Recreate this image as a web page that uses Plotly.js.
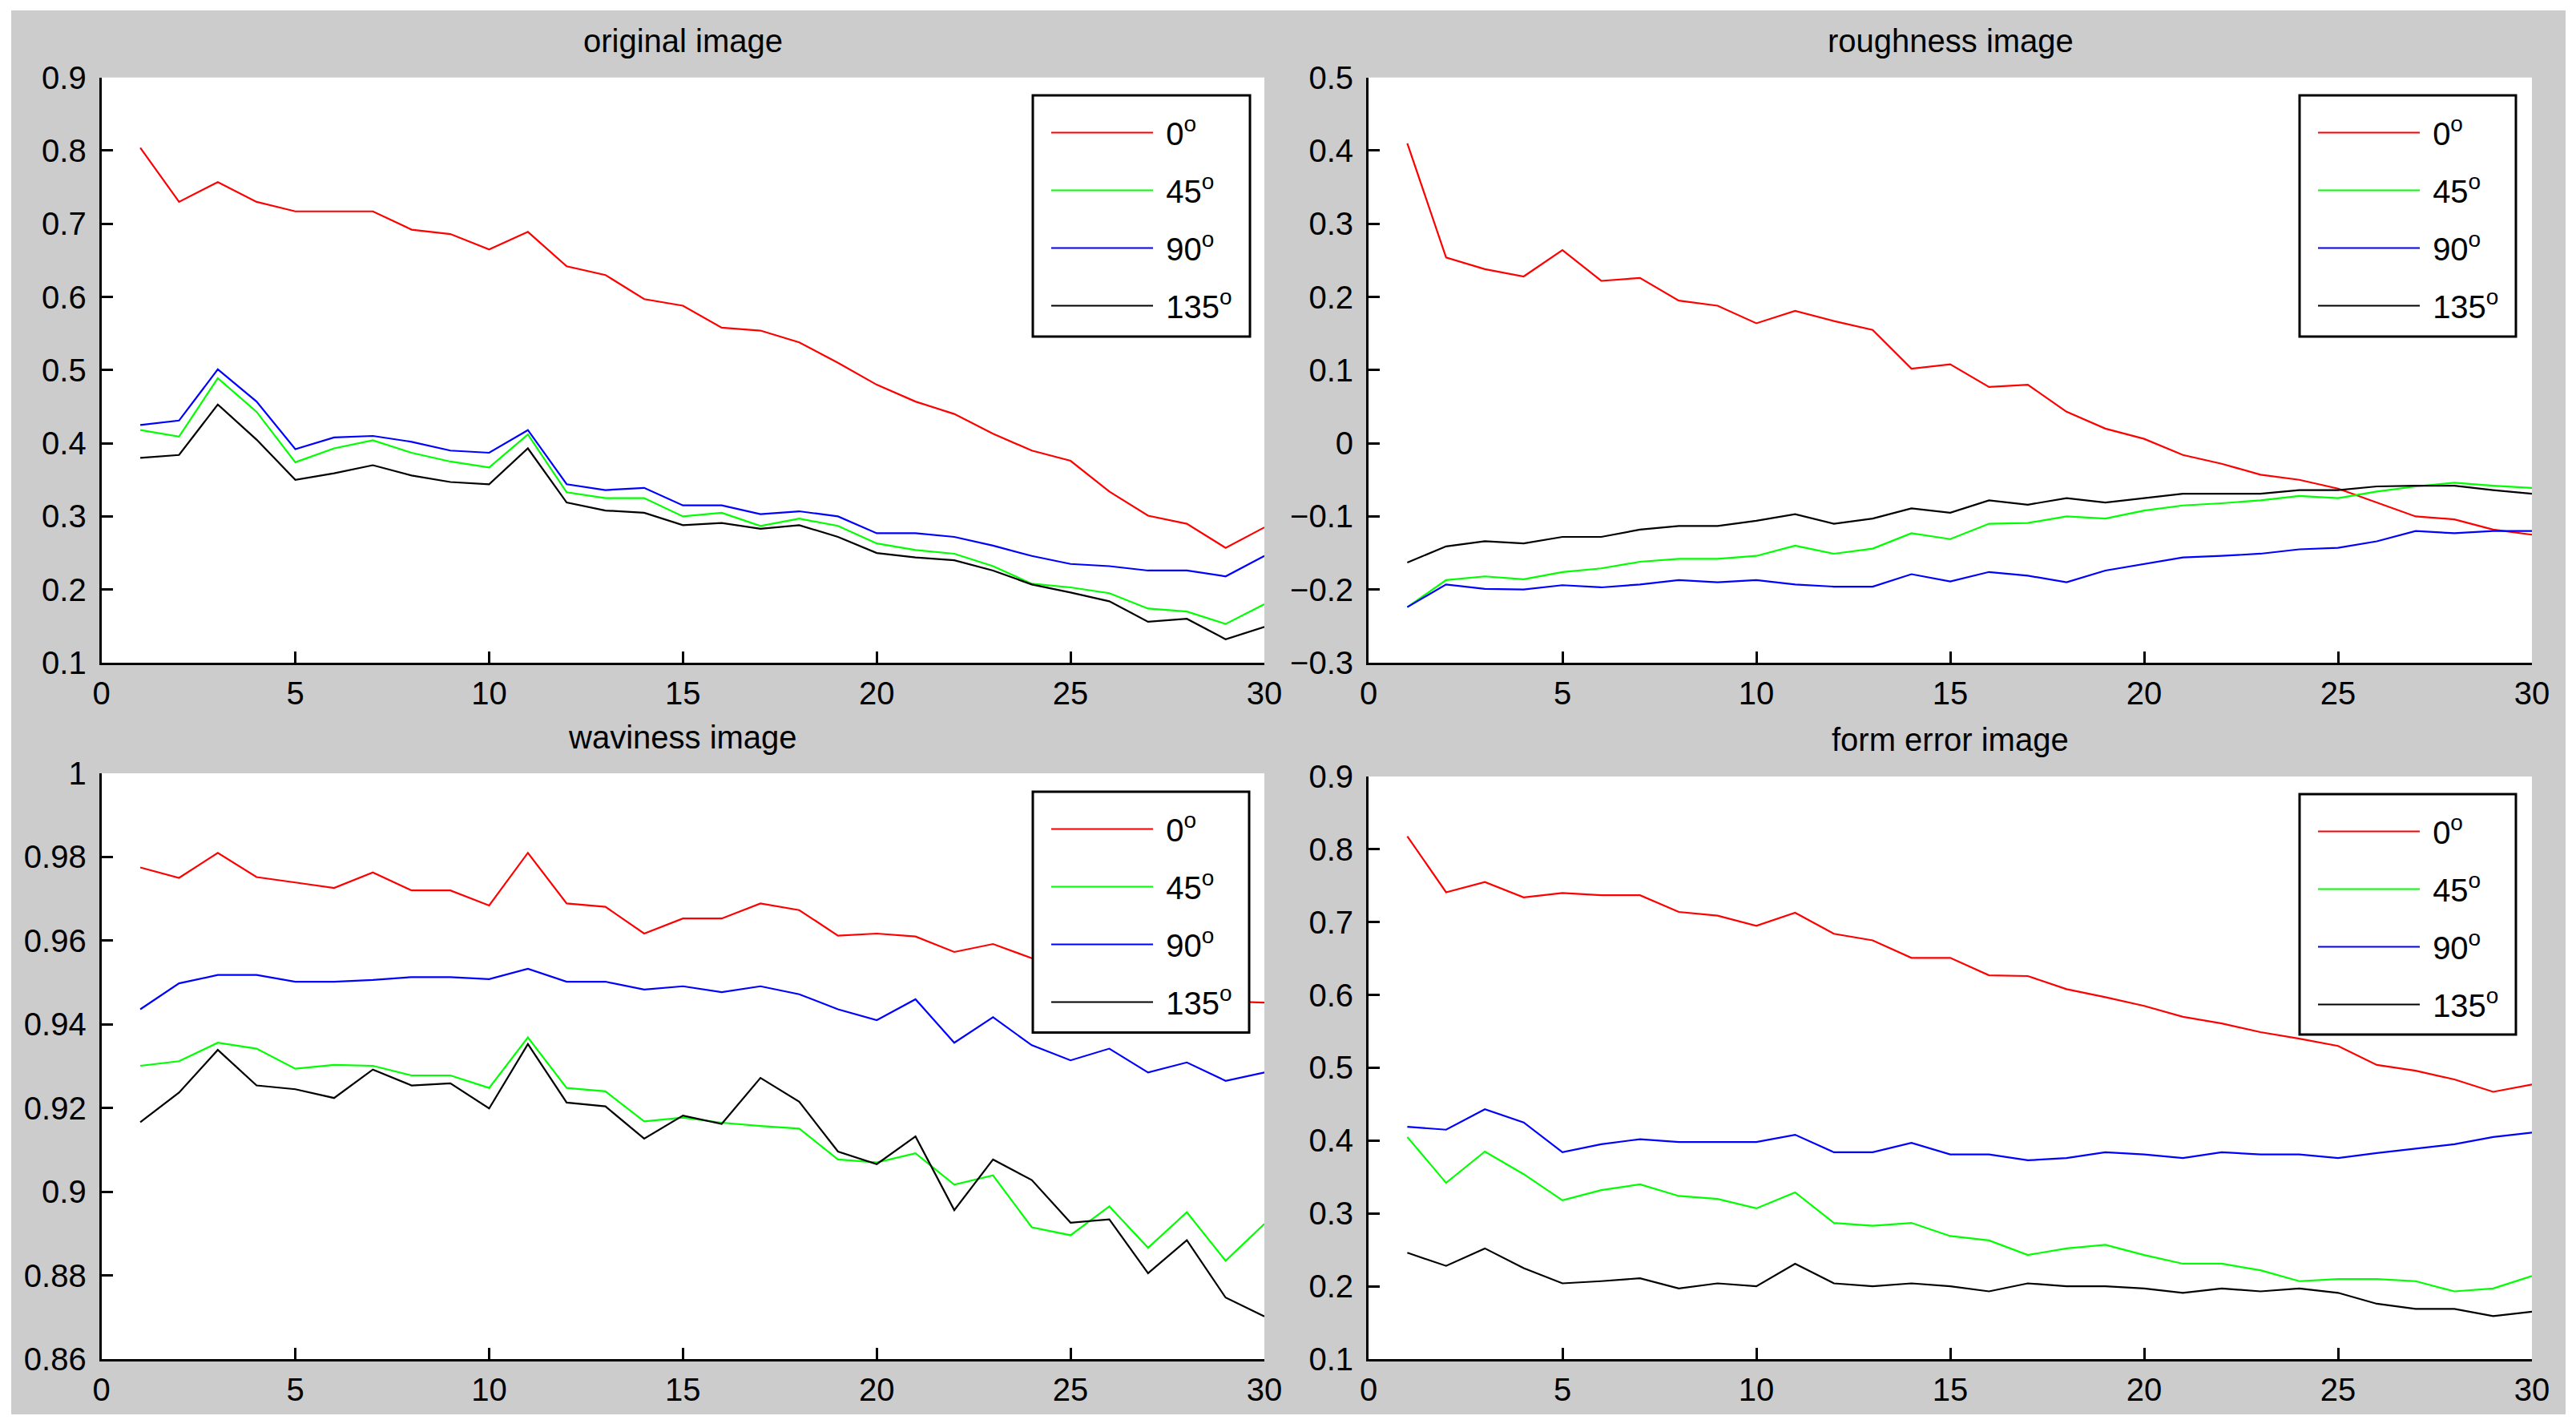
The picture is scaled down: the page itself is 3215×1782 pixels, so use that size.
<!DOCTYPE html>
<html>
<head>
<meta charset="utf-8">
<script src="https://cdn.plot.ly/plotly-3.0.1.min.js"></script>
<style>html,body{margin:0;padding:0;background:#fff;}#chart{width:3215px;height:1782px;}</style>
</head>
<body>
<div id="chart"></div>
<script>
// x positions (1..30)
const xs = [1,2,3,4,5,6,7,8,9,10,11,12,13,14,15,16,17,18,19,20,21,22,23,24,25,26,27,28,29,30];
const seriesNames = ['\u00A00<sup>o</sup>','\u00A045<sup>o</sup>','\u00A090<sup>o</sup>','\u00A0135<sup>o</sup>'];
const subplotTitles = ['original image','roughness image','waviness image','form error image'];

// original image
const orig0   = [0.804,0.730,0.757,0.730,0.717,0.717,0.717,0.692,0.686,0.665,0.689,0.642,0.630,0.597,0.588,0.558,0.554,0.538,0.510,0.480,0.457,0.440,0.413,0.390,0.376,0.334,0.301,0.290,0.257,0.285];
const orig45  = [0.418,0.409,0.489,0.443,0.374,0.393,0.404,0.387,0.375,0.367,0.412,0.333,0.325,0.325,0.300,0.305,0.287,0.297,0.287,0.263,0.254,0.249,0.232,0.208,0.203,0.195,0.174,0.170,0.153,0.180];
const orig90  = [0.425,0.431,0.501,0.457,0.392,0.408,0.410,0.402,0.390,0.387,0.418,0.344,0.336,0.339,0.315,0.315,0.303,0.307,0.300,0.277,0.277,0.272,0.260,0.246,0.235,0.232,0.226,0.226,0.218,0.246];
const orig135 = [0.380,0.384,0.453,0.405,0.350,0.359,0.370,0.356,0.347,0.344,0.393,0.319,0.308,0.305,0.288,0.291,0.283,0.288,0.272,0.250,0.244,0.240,0.226,0.207,0.196,0.184,0.156,0.160,0.132,0.149];

// roughness image
const rough0   = [0.410,0.254,0.238,0.228,0.264,0.222,0.226,0.195,0.188,0.164,0.181,0.167,0.155,0.102,0.108,0.077,0.080,0.043,0.020,0.006,-0.016,-0.028,-0.043,-0.050,-0.062,-0.081,-0.100,-0.104,-0.118,-0.125];
const rough45  = [-0.224,-0.187,-0.182,-0.186,-0.176,-0.171,-0.162,-0.158,-0.158,-0.154,-0.140,-0.151,-0.144,-0.123,-0.131,-0.110,-0.109,-0.100,-0.103,-0.092,-0.085,-0.082,-0.078,-0.072,-0.075,-0.066,-0.059,-0.054,-0.058,-0.061];
const rough90  = [-0.224,-0.193,-0.199,-0.200,-0.194,-0.197,-0.193,-0.187,-0.190,-0.187,-0.193,-0.196,-0.196,-0.179,-0.189,-0.176,-0.181,-0.190,-0.174,-0.165,-0.156,-0.154,-0.151,-0.145,-0.143,-0.134,-0.120,-0.123,-0.120,-0.120];
const rough135 = [-0.163,-0.141,-0.134,-0.137,-0.128,-0.128,-0.118,-0.113,-0.113,-0.106,-0.097,-0.110,-0.103,-0.089,-0.095,-0.078,-0.084,-0.075,-0.081,-0.075,-0.069,-0.069,-0.069,-0.064,-0.064,-0.059,-0.058,-0.058,-0.064,-0.069];

// waviness image
const wav0   = [0.9775,0.9750,0.9810,0.9752,0.9739,0.9726,0.9763,0.9720,0.9720,0.9684,0.9810,0.9689,0.9681,0.9617,0.9653,0.9653,0.9689,0.9673,0.9612,0.9617,0.9610,0.9573,0.9592,0.9558,0.9540,0.9520,0.9500,0.9478,0.9455,0.9452];
const wav45  = [0.9301,0.9312,0.9356,0.9342,0.9294,0.9303,0.9301,0.9278,0.9278,0.9248,0.9369,0.9248,0.9240,0.9168,0.9177,0.9165,0.9157,0.9151,0.9077,0.9070,0.9092,0.9017,0.9039,0.8915,0.8896,0.8965,0.8866,0.8951,0.8835,0.8923];
const wav90  = [0.9436,0.9498,0.9518,0.9518,0.9502,0.9502,0.9506,0.9513,0.9513,0.9508,0.9533,0.9502,0.9502,0.9483,0.9491,0.9477,0.9491,0.9472,0.9436,0.9410,0.9460,0.9356,0.9417,0.9350,0.9314,0.9342,0.9285,0.9309,0.9265,0.9285];
const wav135 = [0.9166,0.9237,0.9339,0.9254,0.9245,0.9224,0.9292,0.9254,0.9259,0.9199,0.9353,0.9213,0.9204,0.9127,0.9182,0.9162,0.9272,0.9215,0.9096,0.9066,0.9132,0.8956,0.9077,0.9028,0.8926,0.8934,0.8805,0.8884,0.8747,0.8702];

// form error image
const form0   = [0.818,0.741,0.755,0.734,0.740,0.737,0.737,0.714,0.709,0.695,0.713,0.684,0.675,0.651,0.651,0.627,0.626,0.608,0.597,0.585,0.570,0.561,0.549,0.540,0.530,0.504,0.496,0.484,0.467,0.477];
const form45  = [0.405,0.342,0.385,0.354,0.318,0.332,0.340,0.324,0.320,0.307,0.329,0.287,0.283,0.287,0.269,0.263,0.243,0.252,0.257,0.243,0.231,0.231,0.222,0.207,0.210,0.210,0.207,0.193,0.197,0.214];
const form90  = [0.419,0.415,0.443,0.425,0.384,0.395,0.402,0.398,0.398,0.398,0.408,0.384,0.384,0.397,0.381,0.381,0.373,0.376,0.384,0.381,0.376,0.384,0.381,0.381,0.376,0.383,0.389,0.395,0.405,0.411];
const form135 = [0.246,0.228,0.252,0.225,0.204,0.207,0.211,0.197,0.204,0.200,0.231,0.204,0.200,0.204,0.200,0.193,0.204,0.200,0.200,0.197,0.191,0.197,0.193,0.197,0.191,0.176,0.169,0.169,0.159,0.165];

// tick labels
const xTicks = [0,5,10,15,20,25,30];
const yTicksOrig = [0.1,0.2,0.3,0.4,0.5,0.6,0.7,0.8,0.9];
const yTicksRough = [-0.3,-0.2,-0.1,0,0.1,0.2,0.3,0.4,0.5];
const yTicksWav = [0.86,0.88,0.9,0.92,0.94,0.96,0.98,1];
const yTicksForm = [0.1,0.2,0.3,0.4,0.5,0.6,0.7,0.8,0.9];
const yTickTextWav = ['0.86','0.88','0.9','0.92','0.94','0.96','0.98','1'];

const colors = ['#ff0000','#00ff00','#0000ff','#000000'];
const FONT = 'Liberation Sans, Arial, sans-serif';

const panels = [
  {data:[orig0,orig45,orig90,orig135], ax:'', legend:'legend'},
  {data:[rough0,rough45,rough90,rough135], ax:'2', legend:'legend2'},
  {data:[wav0,wav45,wav90,wav135], ax:'3', legend:'legend3'},
  {data:[form0,form45,form90,form135], ax:'4', legend:'legend4'}
];

const traces = [];
panels.forEach((p, pi) => {
  p.data.forEach((ys, si) => {
    traces.push({
      type:'scatter', mode:'lines', x: xs, y: ys,
      name: seriesNames[si],
      xaxis: 'x' + p.ax, yaxis: 'y' + p.ax,
      legend: p.legend,
      legendgroup: 'g' + pi + '_' + si,
      line: {color: colors[si], width: 2.2},
      hoverinfo: 'skip'
    });
  });
});

function xaxisDef(domain, anchor) {
  return {domain: domain, anchor: anchor, range:[0,30], tickmode:'array', tickvals:xTicks,
    showline:true, linecolor:'#000', linewidth:3, mirror:false, ticks:'inside', ticklen:14, tickwidth:3, tickcolor:'#000',
    showgrid:false, zeroline:false, tickfont:{family:FONT, size:40, color:'#000'}, ticklabelstandoff:1, fixedrange:true};
}
function yaxisDef(domain, anchor, range, vals, text) {
  const a = {domain: domain, anchor: anchor, range: range, tickmode:'array', tickvals: vals,
    showline:true, linecolor:'#000', linewidth:3, mirror:false, ticks:'inside', ticklen:14, tickwidth:3, tickcolor:'#000',
    showgrid:false, zeroline:false, tickfont:{family:FONT, size:40, color:'#000'}, ticklabelstandoff:8, fixedrange:true};
  if (text) a.ticktext = text;
  return a;
}

const X1 = [0.03535, 0.49059], X2 = [0.53137, 0.98683];
const Y1 = [0.53539, 0.95223], Y3 = [0.03938, 0.45662], Y4 = [0.03938, 0.45434];

function legendDef(x, y) {
  return {x:x, y:y, xanchor:'left', yanchor:'top', bgcolor:'rgba(0,0,0,0)', borderwidth:0,
    font:{family:FONT, size:40, color:'#000'}, itemwidth:127, tracegroupgap:17, traceorder:'grouped',
    itemclick:false, itemdoubleclick:false};
}

// legend frames (paper coords)
const boxes = [
  [0.39994, 0.48495, 0.76769, 0.93950],
  [0.89586, 0.98055, 0.76769, 0.93950],
  [0.39994, 0.48463, 0.27198, 0.44349],
  [0.89586, 0.98055, 0.27055, 0.44178]
];

const titleY = [0.97831, 0.97831, 0.48231, 0.48059];
const titleX = [(X1[0]+X1[1])/2, (X2[0]+X2[1])/2, (X1[0]+X1[1])/2, (X2[0]+X2[1])/2];

const shapes = [
  {type:'rect', xref:'paper', yref:'paper', x0:0, x1:1, y0:0, y1:1, fillcolor:'#cccccc', line:{width:0}, layer:'below'},
  {type:'rect', xref:'paper', yref:'paper', x0:X1[0], x1:X1[1], y0:Y1[0], y1:Y1[1], fillcolor:'#ffffff', line:{width:0}, layer:'below'},
  {type:'rect', xref:'paper', yref:'paper', x0:X2[0], x1:X2[1], y0:Y1[0], y1:Y1[1], fillcolor:'#ffffff', line:{width:0}, layer:'below'},
  {type:'rect', xref:'paper', yref:'paper', x0:X1[0], x1:X1[1], y0:Y3[0], y1:Y3[1], fillcolor:'#ffffff', line:{width:0}, layer:'below'},
  {type:'rect', xref:'paper', yref:'paper', x0:X2[0], x1:X2[1], y0:Y4[0], y1:Y4[1], fillcolor:'#ffffff', line:{width:0}, layer:'below'}
];
boxes.forEach(b => shapes.push({type:'rect', xref:'paper', yref:'paper', x0:b[0], x1:b[1], y0:b[2], y1:b[3],
  fillcolor:'#ffffff', line:{color:'#000', width:3}, layer:'above'}));

const layout = {
  width:3215, height:1782,
  margin:{l:14, r:13, t:13, b:17, pad:0},
  paper_bgcolor:'#ffffff', plot_bgcolor:'#ffffff',
  showlegend:true,
  xaxis: xaxisDef(X1, 'y'),
  yaxis: yaxisDef(Y1, 'x', [0.1,0.9], yTicksOrig),
  xaxis2: xaxisDef(X2, 'y2'),
  yaxis2: yaxisDef(Y1, 'x2', [-0.3,0.5], yTicksRough),
  xaxis3: xaxisDef(X1, 'y3'),
  yaxis3: yaxisDef(Y3, 'x3', [0.86,1], yTicksWav, yTickTextWav),
  xaxis4: xaxisDef(X2, 'y4'),
  yaxis4: yaxisDef(Y4, 'x4', [0.1,0.9], yTicksForm),
  legend: legendDef(0.40559, 0.93150),
  legend2: legendDef(0.90151, 0.93150),
  legend3: legendDef(0.40559, 0.43550),
  legend4: legendDef(0.90151, 0.43379),
  shapes: shapes,
  annotations: subplotTitles.map((t, i) => ({
    text: t, xref:'paper', yref:'paper', x: titleX[i], y: titleY[i], xanchor:'center', yanchor:'middle',
    showarrow:false, font:{family:FONT, size:40, color:'#000'}
  }))
};

Plotly.newPlot('chart', traces, layout, {displayModeBar:false, staticPlot:true});
</script>
</body>
</html>
